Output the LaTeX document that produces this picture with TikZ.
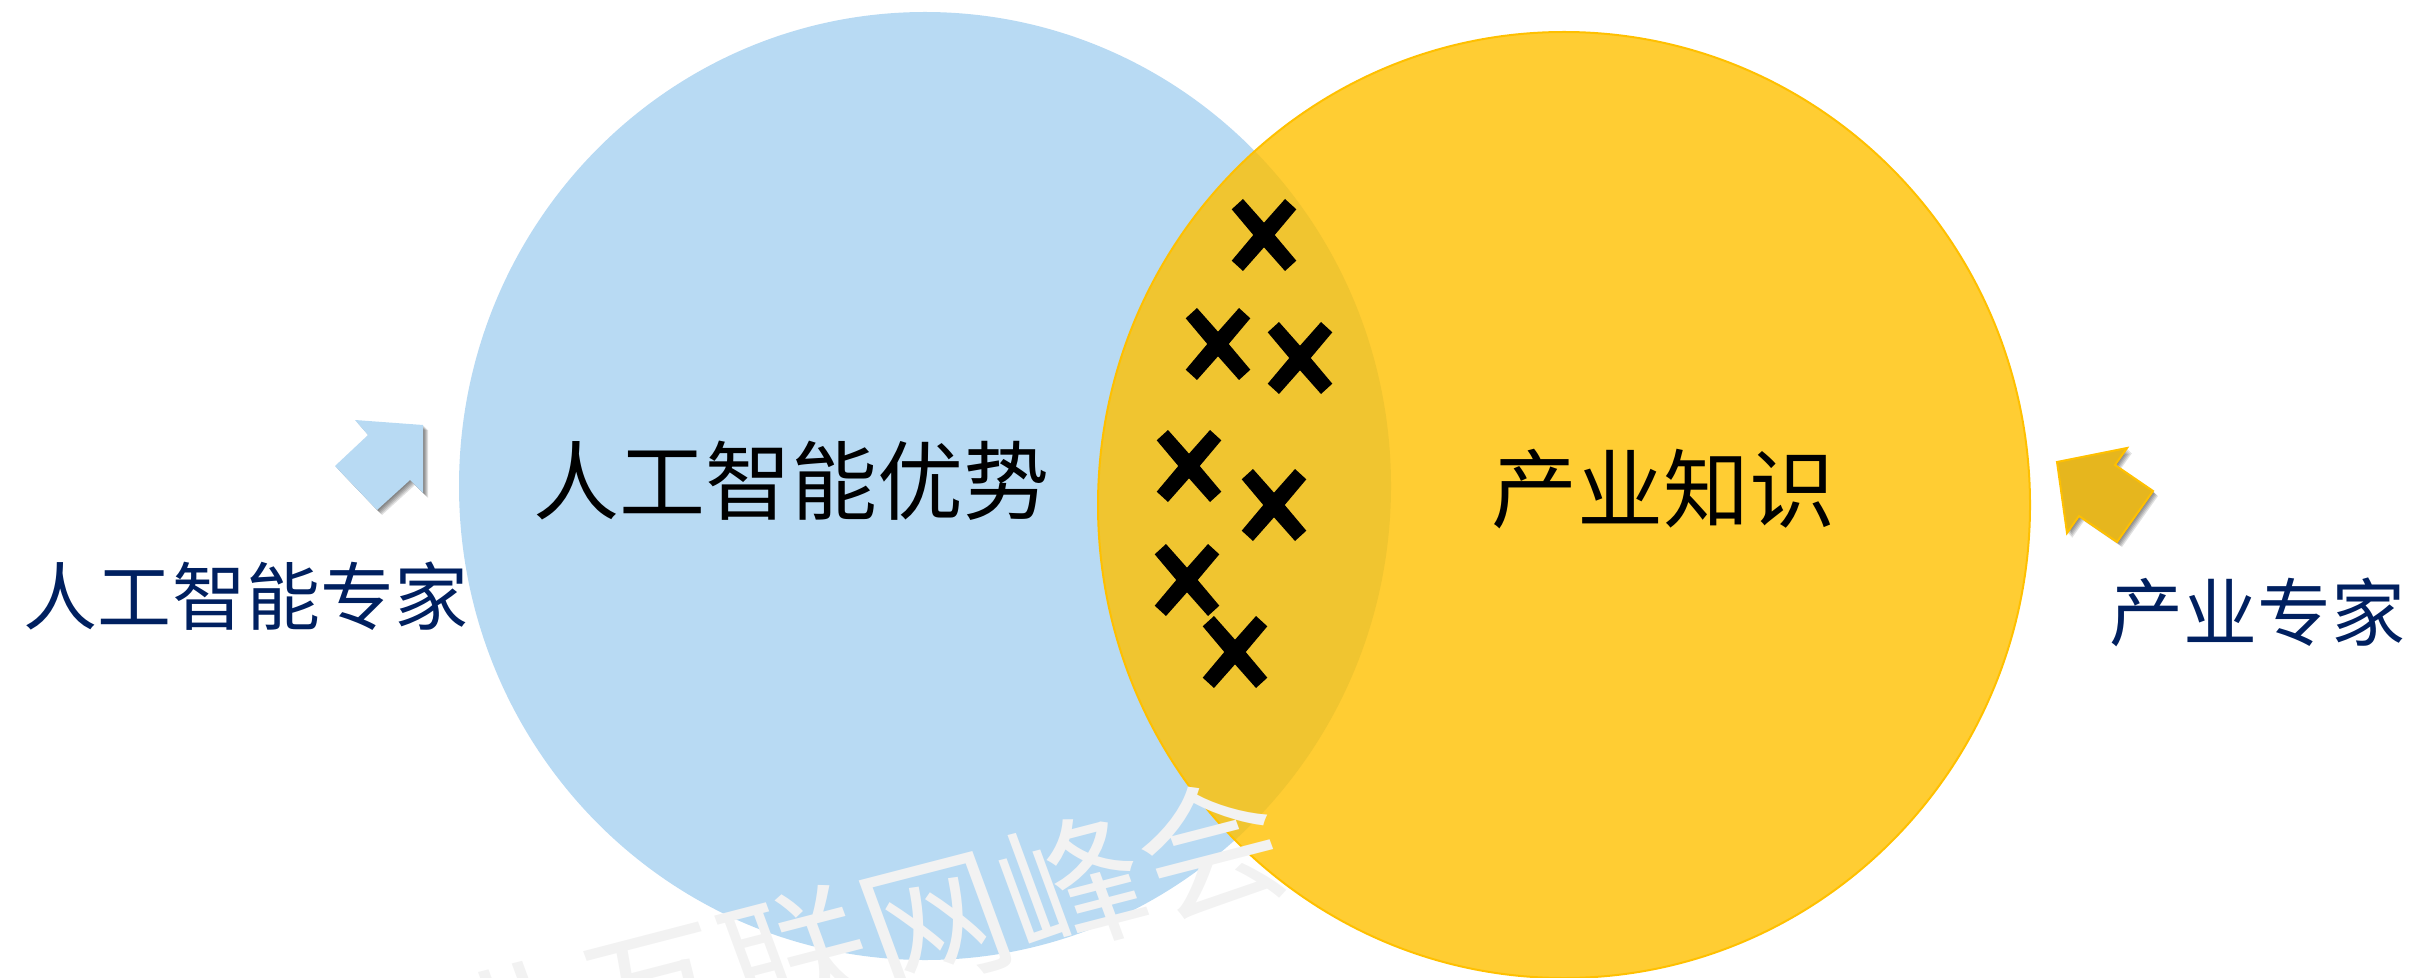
\documentclass[tikz,border=0pt]{standalone}
\usepackage{fontspec}
\newfontfamily\cjk{Noto Sans CJK SC}
\definecolor{bluefill}{HTML}{B8DAF3}
\definecolor{goldedge}{HTML}{FFC000}
\definecolor{goldarrow}{HTML}{E6B61E}
\definecolor{navytext}{HTML}{002060}
\definecolor{wmgray}{HTML}{F2F2F2}
\tikzset{
  blobA/.style={fill=bluefill,draw=none},
  blobB/.style={fill=goldedge,fill opacity=0.8,draw=goldedge,line width=1pt},
  bigtext/.style={font=\cjk\fontsize{43}{43}\selectfont,text=black,inner sep=0pt},
  sidetext/.style={font=\cjk\fontsize{37}{37}\selectfont,text=navytext,inner sep=0pt},
  watermark/.style={font=\cjk\fontsize{71}{71}\selectfont,text=wmgray,inner sep=0pt,rotate=14.5,xslant=-0.1,anchor=west},
  crossmark/.style={fill=black,draw=none},
  shade1/.style={fill=black,opacity=0.12,draw=none},
}
\newcommand{\crossat}[2]{%
  \fill[crossmark,shift={(#1,#2)}]
    (-32.3,-25.7) -- (-21,-36) -- (0,-12.3) -- (21,-36) -- (32.3,-25.7) -- (10.7,0)
    -- (32.3,25.7) -- (21,36) -- (0,12.3) -- (-21,36) -- (-32.3,25.7) -- (-10.7,0) -- cycle;}
\newcommand{\leftarrowshape}{(423,425) -- (355,420) -- (368,435) -- (335,466) -- (377,510) -- (410,480) -- (423,493) -- cycle}
\newcommand{\rightarrowshape}{(2057,462) -- (2127,448) -- (2115,465) -- (2153,491) -- (2117,542) -- (2079,516) -- (2067,533) -- cycle}
\begin{document}
\begin{tikzpicture}[x=0.5pt,y=-0.5pt]
\useasboundingbox (0,0) rectangle (2434,978);
\clip (0,0) rectangle (2434,978);
\fill[blobA] (925,486) ellipse [x radius=466,y radius=474];
\filldraw[blobB] (1564,505) ellipse [x radius=466,y radius=473];
\foreach \d in {1,2,3,4,5}{
  \fill[shade1,shift={(\d,\d)}] \leftarrowshape;
  \fill[shade1,shift={(\d,\d)}] \rightarrowshape;
}
\fill[bluefill] \leftarrowshape;
\filldraw[fill=goldarrow,draw=goldedge,line width=1pt] \rightarrowshape;
\crossat{1264}{235}
\crossat{1218}{344}
\crossat{1300}{358}
\crossat{1189}{466}
\crossat{1274}{505}
\crossat{1187}{580}
\crossat{1235}{652}
\node[bigtext] (adv) at (791,481) {人工智能优势};
\node[bigtext] (know) at (1663,489) {产业知识};
\node[sidetext] (aiexp) at (246,596) {人工智能专家};
\node[sidetext] (indexp) at (2257,612) {产业专家};
\node[watermark] (wm) at (454,1045) {业互联网峰会};
\end{tikzpicture}
\end{document}
